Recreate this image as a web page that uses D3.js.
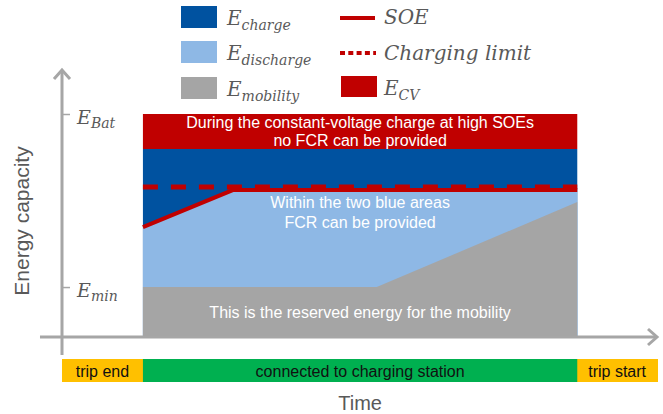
<!DOCTYPE html>
<html>
<head>
<meta charset="utf-8">
<script src="https://cdn.jsdelivr.net/npm/d3@7"></script>
<style>
  html, body { margin: 0; padding: 0; background: #fff; }
  svg { display: block; }
</style>
</head>
<body>
<svg id="chart" width="663" height="414"></svg>
<script>
// ---------- data ----------
const phaseNames = ["trip end", "connected to charging station", "trip start"];
const phaseBounds = [0, 13.6, 86.6, 100];          // time units
const soeTime = [13.6, 28.7, 86.6];
const soeValue = [49.3, 65.9, 65.9];                 // energy units (E_Bat = 100)
const mobilityTime = [13.6, 52.9, 86.6];
const mobilityValue = [22.4, 22.4, 60.5];
const chargingLimit = 67.3;
const cvLevel = 84.3;
const eBat = 100;
const eMin = 22.4;
const tickValues = [eMin, eBat];
const tickLabels = [["E", "min"], ["E", "Bat"]];
const legendLeft = [["E", "charge"], ["E", "discharge"], ["E", "mobility"]];
const legendRight = ["SOE", "Charging limit", ["E", "CV"]];

// ---------- styles ----------
const C = {
  red: "#C00000", dark: "#0052A0", light: "#8EB8E5", gray: "#A5A5A5",
  axis: "#A6A6A6", yellow: "#FFC000", green: "#00B050", text: "#595959"
};
const mathFont = "'DejaVu Serif', serif";
const sansFont = "'Liberation Sans', Arial, sans-serif";

const svg = d3.select("#chart");
const x = d3.scaleLinear().domain([0, 100]).range([62, 657]);
const y = d3.scaleLinear().domain([0, 100]).range([337, 114]);

const t0 = phaseBounds[1], t1 = phaseBounds[2];

// dark blue background region (0 .. cvLevel)
svg.append("rect")
  .attr("x", x(t0)).attr("width", x(t1) - x(t0))
  .attr("y", y(cvLevel)).attr("height", y(0) - y(cvLevel))
  .attr("fill", C.dark);
// red CV region
svg.append("rect")
  .attr("x", x(t0)).attr("width", x(t1) - x(t0))
  .attr("y", y(eBat)).attr("height", y(cvLevel) - y(eBat))
  .attr("fill", C.red);
// light blue area under SOE
const soeData = soeTime.map((t, i) => ({ t, v: soeValue[i] }));
const mobData = mobilityTime.map((t, i) => ({ t, v: mobilityValue[i] }));
const area = d3.area().x(d => x(d.t)).y0(y(0)).y1(d => y(d.v));
svg.append("path").datum(soeData).attr("d", area).attr("fill", C.light);
svg.append("path").datum(mobData).attr("d", area).attr("fill", C.gray);

// charging limit dashed line
svg.append("line")
  .attr("x1", x(t0)).attr("x2", x(t1))
  .attr("y1", y(chargingLimit)).attr("y2", y(chargingLimit))
  .attr("stroke", C.red).attr("stroke-width", 5)
  .attr("stroke-dasharray", "15,13");
// SOE line
svg.append("path").datum(soeData)
  .attr("d", d3.line().x(d => x(d.t)).y(d => y(d.v)))
  .attr("fill", "none").attr("stroke", C.red).attr("stroke-width", 4);

// in-chart labels
const mid = (x(t0) + x(t1)) / 2;
const labels = [
  ["During the constant-voltage charge at high SOEs", 128],
  ["no FCR can be provided", 146],
  ["Within the two blue areas", 208],
  ["FCR can be provided", 228],
  ["This is the reserved energy for the mobility", 318]
];
svg.selectAll("text.inlab").data(labels).join("text")
  .attr("class", "inlab")
  .attr("x", mid).attr("y", d => d[1])
  .attr("text-anchor", "middle")
  .attr("font-family", sansFont).attr("font-size", 16)
  .attr("fill", "#ffffff")
  .text(d => d[0]);

// ---------- axes ----------
const axisG = svg.append("g");
// horizontal axis
axisG.append("line")
  .attr("x1", x(-3.7)).attr("x2", x(100) - 1)
  .attr("y1", y(0)).attr("y2", y(0))
  .attr("stroke", C.axis).attr("stroke-width", 3);
// vertical axis
axisG.append("line")
  .attr("x1", x(0)).attr("x2", x(0))
  .attr("y1", y(-8.1)).attr("y2", y(119.7) + 1)
  .attr("stroke", C.axis).attr("stroke-width", 3);
// arrow heads
const ax = x(100), ay = y(0);
axisG.append("path")
  .attr("d", `M${ax - 9},${ay - 8} L${ax},${ay} L${ax - 9},${ay + 8}`)
  .attr("fill", "none").attr("stroke", C.axis).attr("stroke-width", 3)
  .attr("stroke-linejoin", "miter");
const bx = x(0), by = y(119.7);
axisG.append("path")
  .attr("d", `M${bx - 8},${by + 9} L${bx},${by} L${bx + 8},${by + 9}`)
  .attr("fill", "none").attr("stroke", C.axis).attr("stroke-width", 3);

// ticks
const yAxis = d3.axisRight(y).tickValues(tickValues).tickSize(8).tickFormat("");
const yg = svg.append("g").attr("transform", `translate(${x(0)},0)`).call(yAxis);
yg.select(".domain").remove();
yg.selectAll(".tick line").attr("stroke", C.axis).attr("stroke-width", 1.5);

// tick labels
const tl = svg.selectAll("text.ticklab").data(tickValues).join("text")
  .attr("class", "ticklab")
  .attr("x", x(0) + 15).attr("y", d => y(d) + 10)
  .attr("font-family", mathFont).attr("font-style", "italic")
  .attr("font-size", 19).attr("fill", C.text);
tl.each(function (d, i) {
  const t = d3.select(this);
  t.append("tspan").text(tickLabels[i][0]);
  t.append("tspan").attr("font-size", 14).attr("dy", 4).text(tickLabels[i][1]);
});

// axis titles
svg.append("text")
  .attr("transform", `translate(29,221) rotate(-90)`)
  .attr("text-anchor", "middle")
  .attr("font-family", sansFont).attr("font-size", 21)
  .attr("fill", C.text).text("Energy capacity");
svg.append("text")
  .attr("x", mid).attr("y", 410)
  .attr("text-anchor", "middle")
  .attr("font-family", sansFont).attr("font-size", 20)
  .attr("fill", C.text).text("Time");

// ---------- phase bar ----------
const phases = phaseNames.map((n, i) => ({ n, a: phaseBounds[i], b: phaseBounds[i + 1] }));
const phaseColor = [C.yellow, C.green, C.yellow];
const pg = svg.append("g");
pg.selectAll("rect").data(phases).join("rect")
  .attr("x", d => x(d.a)).attr("width", d => x(d.b) - x(d.a) + 1)
  .attr("y", 359).attr("height", 23)
  .attr("fill", (d, i) => phaseColor[i]);
pg.selectAll("text").data(phases).join("text")
  .attr("x", d => (x(d.a) + x(d.b)) / 2).attr("y", 377)
  .attr("text-anchor", "middle")
  .attr("font-family", sansFont).attr("font-size", 16)
  .attr("fill", "#111").text(d => d.n);

// ---------- legend ----------
const lg = svg.append("g");
const leftColors = [C.dark, C.light, C.gray];
const rowsY = [6, 41, 77];
legendLeft.forEach((lab, i) => {
  lg.append("rect").attr("x", 181).attr("y", rowsY[i]).attr("width", 36).attr("height", 22)
    .attr("fill", leftColors[i]);
  const t = lg.append("text").attr("x", 227).attr("y", rowsY[i] + 19)
    .attr("font-family", mathFont).attr("font-style", "italic")
    .attr("font-size", 20).attr("fill", C.text);
  t.append("tspan").text(lab[0]);
  t.append("tspan").attr("font-size", 14).attr("dy", 5).text(lab[1]);
});
// right column
lg.append("line").attr("x1", 340).attr("x2", 375).attr("y1", 18).attr("y2", 18)
  .attr("stroke", C.red).attr("stroke-width", 4);
lg.append("line").attr("x1", 340).attr("x2", 376).attr("y1", 53).attr("y2", 53)
  .attr("stroke", C.red).attr("stroke-width", 4).attr("stroke-dasharray", "5,3.3");
lg.append("rect").attr("x", 341).attr("y", 76).attr("width", 36).attr("height", 21)
  .attr("fill", C.red);
const rY = [24, 60, 95];
legendRight.forEach((lab, i) => {
  const t = lg.append("text").attr("x", 384).attr("y", rY[i])
    .attr("font-family", mathFont).attr("font-style", "italic")
    .attr("font-size", 20).attr("fill", C.text);
  if (Array.isArray(lab)) {
    t.append("tspan").text(lab[0]);
    t.append("tspan").attr("font-size", 14).attr("dy", 5).text(lab[1]);
  } else {
    t.text(lab);
  }
});
</script>
</body>
</html>
